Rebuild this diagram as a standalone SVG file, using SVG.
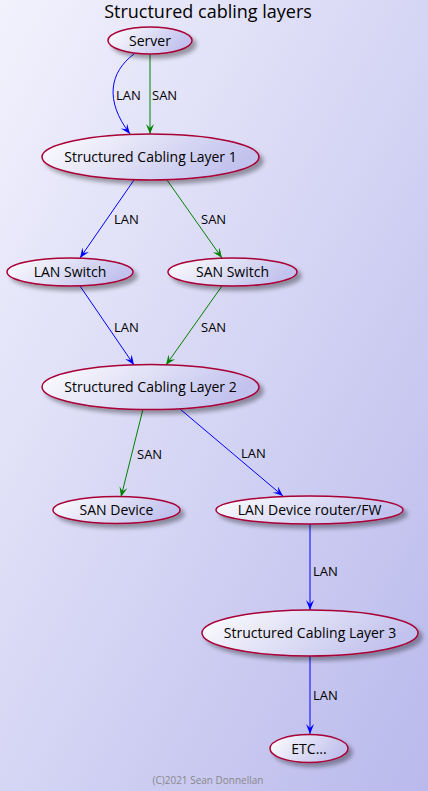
<svg xmlns="http://www.w3.org/2000/svg" width="428" height="791" viewBox="0 0 428 791">
<defs>
<linearGradient id="bg" x1="0" y1="0" x2="1" y2="1">
<stop offset="0" stop-color="#F2F2FD"/>
<stop offset="1" stop-color="#B9B9EC"/>
</linearGradient>
<linearGradient id="nf" x1="0" y1="0" x2="1" y2="0.3">
<stop offset="0" stop-color="#FFFFFF"/>
<stop offset="1" stop-color="#C2C2EE"/>
</linearGradient>
<filter id="sh" x="-20%" y="-40%" width="150%" height="200%">
<feGaussianBlur in="SourceAlpha" stdDeviation="2"/>
<feOffset dx="4" dy="4" result="b"/>
<feComponentTransfer><feFuncA type="linear" slope="0.35"/></feComponentTransfer>
<feMerge><feMergeNode/><feMergeNode in="SourceGraphic"/></feMerge>
</filter>
<marker id="ab" viewBox="0 0 10 10" refX="10" refY="5" markerWidth="10" markerHeight="10" markerUnits="userSpaceOnUse" orient="auto">
<path d="M10,5 L0,1 L4,5 L0,9 Z" fill="#0000FF"/>
</marker>
<marker id="ag" viewBox="0 0 10 10" refX="10" refY="5" markerWidth="10" markerHeight="10" markerUnits="userSpaceOnUse" orient="auto">
<path d="M10,5 L0,1 L4,5 L0,9 Z" fill="#008000"/>
</marker>
</defs>
<style>
.n ellipse{fill:url(#nf);stroke:#A80036;stroke-width:1.5;filter:url(#sh)}
.n text{font-family:"Open Sans","Liberation Sans",Arial,sans-serif;font-size:14px;fill:#000;text-anchor:middle}
.lan{stroke:#0000FF;fill:none;stroke-width:1;marker-end:url(#ab)}
.san{stroke:#008000;fill:none;stroke-width:1;marker-end:url(#ag)}
.lb{font-family:"Open Sans","Liberation Sans",Arial,sans-serif;font-size:13px;fill:#000}
</style>
<rect x="0" y="0" width="428" height="791" fill="url(#bg)"/>
<text x="208" y="18" font-family="Open Sans,Liberation Sans,Arial,sans-serif" font-size="18" text-anchor="middle" fill="#000">Structured cabling layers</text>

<g id="connectors">
<path class="lan" d="M134,54 C110,72 104,100 130,134"/>
<path class="san" d="M150,54 L150,134"/>
<path class="lan" d="M134,180 L80,258"/>
<path class="san" d="M167,180 L222,258"/>
<path class="lan" d="M80,286 L134,365"/>
<path class="san" d="M222,286 L166,365"/>
<path class="san" d="M143,409 L121,497"/>
<path class="lan" d="M180,409 L283,496"/>
<path class="lan" d="M310,524 L310,610"/>
<path class="lan" d="M310,656 L310,734"/>
<text class="lb" x="116" y="100">LAN</text>
<text class="lb" x="152" y="100">SAN</text>
<text class="lb" x="114" y="224">LAN</text>
<text class="lb" x="201" y="224">SAN</text>
<text class="lb" x="114" y="332">LAN</text>
<text class="lb" x="201" y="332">SAN</text>
<text class="lb" x="137" y="459">SAN</text>
<text class="lb" x="241" y="458">LAN</text>
<text class="lb" x="313" y="576">LAN</text>
<text class="lb" x="313" y="700">LAN</text>
</g>

<g id="server" class="n"><ellipse cx="150" cy="40.5" rx="42" ry="13.5"/><text x="150" y="45.5">Server</text></g>
<g id="layer1" class="n"><ellipse cx="150.5" cy="157" rx="108.5" ry="23"/><text x="150.5" y="162">Structured Cabling Layer 1</text></g>
<g id="lanswitch" class="n"><ellipse cx="70" cy="272" rx="63" ry="14"/><text x="70" y="277">LAN Switch</text></g>
<g id="sanswitch" class="n"><ellipse cx="232.5" cy="272" rx="64.5" ry="14"/><text x="232.5" y="277">SAN Switch</text></g>
<g id="layer2" class="n"><ellipse cx="150.5" cy="387" rx="108.5" ry="22.5"/><text x="150.5" y="392">Structured Cabling Layer 2</text></g>
<g id="sandevice" class="n"><ellipse cx="116.5" cy="510" rx="63.5" ry="13.5"/><text x="116.5" y="515">SAN Device</text></g>
<g id="landevice" class="n"><ellipse cx="309.5" cy="510" rx="93.5" ry="14"/><text x="309.5" y="515">LAN Device router/FW</text></g>
<g id="layer3" class="n"><ellipse cx="310" cy="633" rx="108" ry="23"/><text x="310" y="638">Structured Cabling Layer 3</text></g>
<g id="etc" class="n"><ellipse cx="309" cy="748.5" rx="39" ry="14"/><text x="309" y="753.5">ETC...</text></g>

<text x="208" y="784" font-family="Open Sans,Liberation Sans,Arial,sans-serif" font-size="10" text-anchor="middle" fill="#888888">(C)2021 Sean Donnellan</text>
</svg>
